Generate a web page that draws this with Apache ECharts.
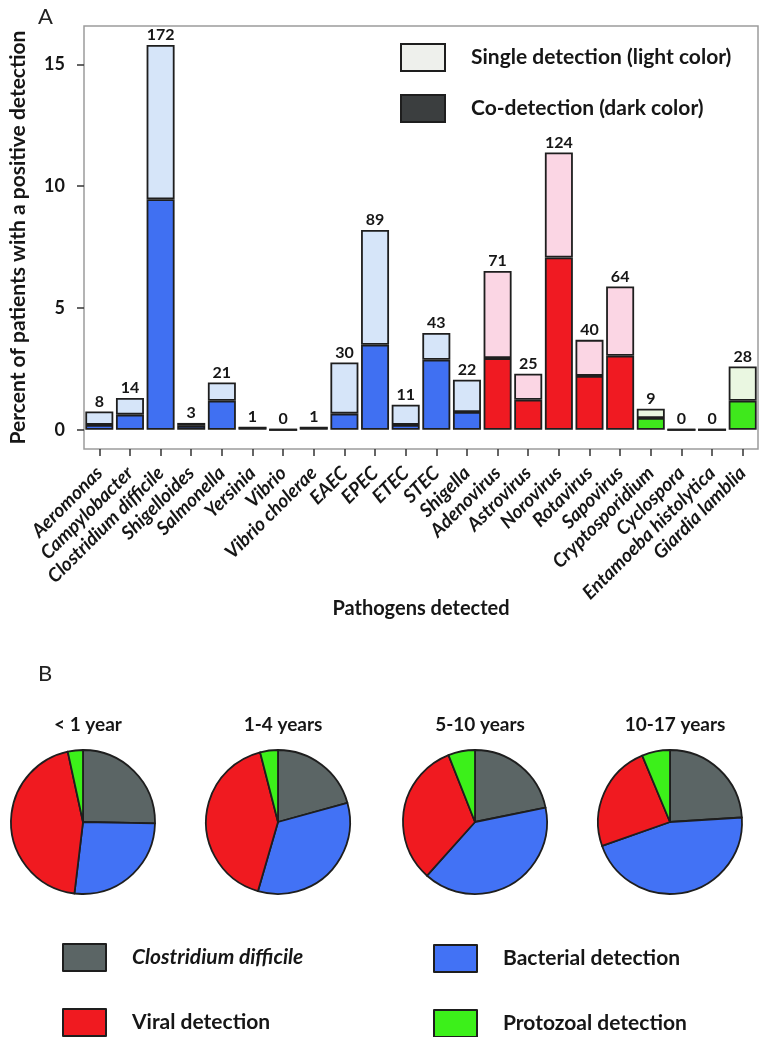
<!DOCTYPE html>
<html>
<head>
<meta charset="utf-8">
<script src="https://cdn.jsdelivr.net/npm/echarts@6/dist/echarts.min.js"></script>
<style>
html,body{margin:0;padding:0;background:#fff;}
#chart{width:762px;height:1037px;}
</style>
</head>
<body>
<div id="chart"></div>
<script>
// ---- Data ----
const categories = ['Aeromonas','Campylobacter','Clostridium difficile','Shigelloides','Salmonella','Yersinia','Vibrio','Vibrio cholerae','EAEC','EPEC','ETEC','STEC','Shigella','Adenovirus','Astrovirus','Norovirus','Rotavirus','Sapovirus','Cryptosporidium','Cyclospora','Entamoeba histolytica','Giardia lamblia'];
const groups = ['bac','bac','bac','bac','bac','bac','bac','bac','bac','bac','bac','bac','bac','vir','vir','vir','vir','vir','pro','pro','pro','pro'];
const coDetection = [0.20,0.62,9.46,0.16,1.19,0.09,0,0.09,0.66,3.49,0.20,2.87,0.73,2.94,1.23,7.07,2.21,3.04,0.48,0,0,1.19];
const singleDetection = [0.55,0.68,6.33,0.12,0.75,0,0,0,2.10,4.71,0.83,1.10,1.32,3.58,1.07,4.31,1.48,2.84,0.38,0,0,1.41];
const totalCounts = [8,14,172,3,21,1,0,1,30,89,11,43,22,71,25,124,40,64,9,0,0,28];
const yTicks = [0,5,10,15];
const barLegendNames = ['Single detection (light color)','Co-detection (dark color)'];

const pieTitles = ['< 1 year','1-4 years','5-10 years','10-17 years'];
const pieNames = ['Clostridium difficile','Bacterial detection','Viral detection','Protozoal detection'];
const pieUnder1 = [25.3,26.6,44.7,3.4];
const pie1to4 = [20.7,33.8,41.5,4.0];
const pie5to10 = [21.8,39.8,32.4,6.0];
const pie10to17 = [24.0,45.6,24.1,6.3];
const pieValues = [pieUnder1, pie1to4, pie5to10, pie10to17];

// ---- Styles ----
const FONT = 'Lato, "Open Sans", sans-serif';
const palette = {
  bac: {dark:'#4070f2', light:'#d6e5f9'},
  vir: {dark:'#f01a22', light:'#fbd6e4'},
  pro: {dark:'#3fe81c', light:'#eaf7e1'}
};
const pieColors = ['#5b6565','#4272f5','#f01a20','#3cf01a'];
const pieCenters = [[83,822],[278,822],[475,822],[670,822]];
const BORDER = '#1e1e1e';
const TXT = '#161616';

const chart = echarts.init(document.getElementById('chart'), null, {renderer:'canvas'});

const titles = [
  {text:'A', left:33, top:1, textStyle:{fontFamily:FONT, fontWeight:'normal', fontSize:22, color:'#222'}},
  {text:'B', left:33, top:658, textStyle:{fontFamily:FONT, fontWeight:'normal', fontSize:22, color:'#222'}}
];
pieTitles.forEach((t,i)=>{
  titles.push({text:t, left:pieCenters[i][0], top:710, textAlign:'center',
    textStyle:{fontFamily:FONT, fontWeight:'bold', fontSize:19, color:TXT}});
});

const pieSeries = pieValues.map((vals,i)=>({
  type:'pie',
  center:pieCenters[i],
  radius:72,
  startAngle:90,
  clockwise:true,
  silent:true,
  label:{show:false},
  labelLine:{show:false},
  emphasis:{disabled:true},
  itemStyle:{borderColor:BORDER, borderWidth:1.8},
  data: vals.map((v,j)=>({name:pieNames[j], value:v, itemStyle:{color:pieColors[j]}}))
}));

const legendText = {fontFamily:FONT, fontWeight:'bold', fontSize:21, color:TXT, padding:[0,0,0,21]};

const option = {
  animation:false,
  backgroundColor:'#fff',
  title: titles,
  legend: [
    {
      orient:'vertical', left:400, top:43, padding:0, height:120,
      itemWidth:44, itemHeight:27, itemGap:22,
      selectedMode:false,
      textStyle:legendText,
      data:[
        {name:barLegendNames[0], icon:'rect', itemStyle:{color:'#eef0ec', borderColor:BORDER, borderWidth:2}},
        {name:barLegendNames[1], icon:'rect', itemStyle:{color:'#3b3e3f', borderColor:BORDER, borderWidth:2}}
      ]
    },
    {
      orient:'vertical', left:62, top:943, padding:0, height:120,
      itemWidth:43, itemHeight:27, itemGap:36,
      selectedMode:false,
      textStyle:legendText,
      data:[
        {name:pieNames[0], icon:'rect', itemStyle:{color:pieColors[0], borderColor:BORDER, borderWidth:2}, textStyle:{fontStyle:'italic'}},
        {name:pieNames[2], icon:'rect', itemStyle:{color:pieColors[2], borderColor:BORDER, borderWidth:2}}
      ]
    },
    {
      orient:'vertical', left:433, top:944, padding:0, height:120,
      itemWidth:43, itemHeight:27, itemGap:36,
      selectedMode:false,
      textStyle:legendText,
      data:[
        {name:pieNames[1], icon:'rect', itemStyle:{color:pieColors[1], borderColor:BORDER, borderWidth:2}},
        {name:pieNames[3], icon:'rect', itemStyle:{color:pieColors[3], borderColor:BORDER, borderWidth:2}}
      ]
    }
  ],
  grid: {
    left:75, top:26, width:683, height:423,
    show:true, borderColor:'#9c9c9c', borderWidth:1.5, backgroundColor:'transparent'
  },
  xAxis: {
    type:'category',
    data:categories,
    position:'bottom',
    axisLine:{show:false, onZero:false},
    axisTick:{show:true, alignWithLabel:true, length:7, lineStyle:{color:'#333', width:1.5}},
    axisLabel:{rotate:45, interval:0, margin:21, fontFamily:FONT, fontWeight:'bold', fontStyle:'italic', fontSize:19, color:TXT},
    name:'Pathogens detected',
    nameLocation:'middle',
    nameGap:150,
    nameMoveOverlap:false,
    nameTextStyle:{fontFamily:FONT, fontWeight:'bold', fontSize:20, color:TXT}
  },
  yAxis: {
    type:'value',
    min:-0.79, max:16.57,
    axisLine:{show:false},
    splitLine:{show:false},
    axisTick:{show:true, customValues:yTicks, length:7, lineStyle:{color:'#333', width:1.5}},
    axisLabel:{customValues:yTicks, margin:19, fontFamily:FONT, fontWeight:'bold', fontSize:18, color:TXT},
    name:'Percent of patients with a positive detection',
    nameLocation:'middle',
    nameGap:55,
    nameRotate:90,
    nameMoveOverlap:false,
    nameTextStyle:{fontFamily:FONT, fontWeight:'bold', fontSize:21, color:TXT}
  },
  series: [
    {
      name:barLegendNames[1],
      type:'bar',
      stack:'total',
      barWidth:28,
      silent:true,
      data:coDetection,
      itemStyle:{
        color:(p)=>palette[groups[p.dataIndex]].dark,
        borderColor:BORDER, borderWidth:1.8
      }
    },
    {
      name:barLegendNames[0],
      type:'bar',
      stack:'total',
      barWidth:28,
      silent:true,
      data:singleDetection,
      itemStyle:{
        color:(p)=>palette[groups[p.dataIndex]].light,
        borderColor:BORDER, borderWidth:1.8
      },
      label:{
        show:true, position:'top', distance:2,
        formatter:(p)=>String(totalCounts[p.dataIndex]),
        fontFamily:FONT, fontWeight:'bold', fontSize:16, color:TXT
      }
    }
  ].concat(pieSeries)
};

chart.setOption(option);
</script>
</body>
</html>
